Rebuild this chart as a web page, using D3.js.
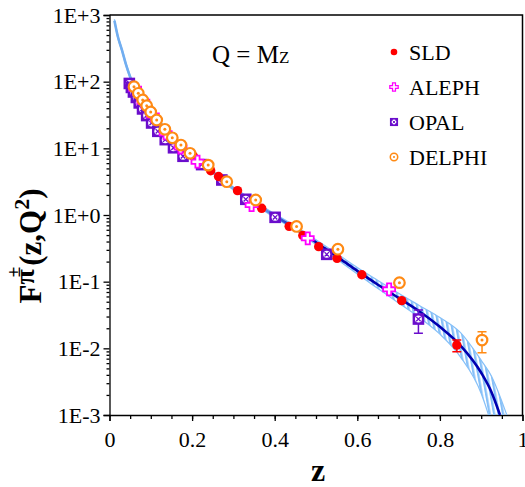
<!DOCTYPE html>
<html>
<head>
<meta charset="utf-8">
<script src="https://cdn.jsdelivr.net/npm/d3@7"></script>
<style>
  html, body { margin: 0; padding: 0; background: #fff; }
  svg { display: block; font-family: "Liberation Serif", "Times New Roman", serif; }
</style>
</head>
<body>
<svg id="chart" width="525" height="487"></svg>
<script>
// fit curve (central value) and its uncertainty band
var curveZ = [0.012, 0.02, 0.03, 0.04, 0.05, 0.06, 0.07, 0.08, 0.09, 0.10, 0.12, 0.14, 0.16, 0.18, 0.20,
    0.25, 0.30, 0.35, 0.40, 0.45, 0.50, 0.55, 0.60, 0.65, 0.70, 0.75, 0.80, 0.85, 0.90, 0.925, 0.9455];
var curveF = [820, 480, 300, 180, 118, 84, 65, 52, 43, 35, 25, 18.5, 13.8, 10.5, 8.0,
    4.4, 2.5, 1.55, 0.97, 0.63, 0.39, 0.24, 0.145, 0.090, 0.057, 0.036, 0.021, 0.011, 0.0043, 0.0022, 0.001];

var bandZ = curveZ.concat([0.962, 0.975]);
var bandLo = [780, 456, 285, 171, 112, 80, 62, 49.4, 40.9, 33.2, 23.8, 17.6, 13.1, 9.95, 7.6,
    4.17, 2.37, 1.46, 0.91, 0.59, 0.36, 0.218, 0.130, 0.079, 0.048, 0.029, 0.0163, 0.0074, 0.0021, 0.0007, 0.0002,
    0.00008, 0.00004];
var bandHi = [860, 504, 315, 189, 124, 88, 68, 54.6, 45.1, 36.8, 26.2, 19.4, 14.5, 11.0, 8.4,
    4.63, 2.63, 1.64, 1.04, 0.68, 0.425, 0.265, 0.163, 0.104, 0.067, 0.044, 0.029, 0.0172, 0.0066, 0.0038, 0.0019,
    0.001, 0.0006];

// experiments
var sldZ = [0.203, 0.245, 0.264, 0.310, 0.3685, 0.435, 0.468, 0.5065, 0.551, 0.611, 0.7075, 0.841];
var sldF = [7.67, 4.62, 3.78, 2.32, 1.26, 0.676, 0.493, 0.335, 0.224, 0.127, 0.0519, 0.0112];
var sldErrLo = [null, null, null, null, null, null, null, null, null, null, null, 0.0089];
var sldErrHi = [null, null, null, null, null, null, null, null, null, null, null, 0.0133];

var alephZ = [0.062, 0.082, 0.105, 0.136, 0.172, 0.213, 0.344, 0.48, 0.677];
var alephF = [78, 50, 31, 16.8, 10.3, 6.3, 1.41, 0.447, 0.0767];

var opalZ = [0.048, 0.053, 0.058, 0.065, 0.072, 0.080, 0.090, 0.102, 0.117, 0.135, 0.155, 0.178,
    0.223, 0.272, 0.330, 0.401, 0.526, 0.748];
var opalF = [94, 82, 70, 58, 48, 39, 31, 24, 18, 13.5, 10.2, 7.6,
    5.7, 3.35, 1.72, 0.923, 0.257, 0.0275];
var opalErrLo = opalZ.map(function (d, i) { return i === opalZ.length - 1 ? 0.0168 : null; });
var opalErrHi = opalZ.map(function (d, i) { return i === opalZ.length - 1 ? 0.0376 : null; });

var delphiZ = [0.0593, 0.0697, 0.0804, 0.0901, 0.0998, 0.1143, 0.134, 0.152, 0.173, 0.195, 0.239,
    0.284, 0.354, 0.453, 0.553, 0.702, 0.902];
var delphiF = [84, 66.9, 53.1, 43.6, 35.1, 26.6, 19.3, 14.4, 11.2, 8.43, 5.6,
    3.16, 1.68, 0.673, 0.307, 0.0966, 0.0133];
var delphiErrLo = delphiZ.map(function (d, i) { return i === delphiZ.length - 1 ? 0.0086 : null; });
var delphiErrHi = delphiZ.map(function (d, i) { return i === delphiZ.length - 1 ? 0.0178 : null; });

var xTicks = [0, 0.2, 0.4, 0.6, 0.8, 1];
var yTicks = [1e-3, 1e-2, 1e-1, 1e0, 1e1, 1e2, 1e3];
var legendNames = ["SLD", "ALEPH", "OPAL", "DELPHI"];

var FONT = "'Liberation Serif', 'Times New Roman', serif";
var RED = "#ff0000", MAGENTA = "#ff00ff", PURPLE = "#6a0dcc", ORANGE = "#ff8a14";
var BAND = "#86c0f8", NAVY = "#0000b0";

var W = 525, H = 487;
var margin = {left: 109.5, right: 2.5, top: 15, bottom: 72};

var svg = d3.select("#chart");
var x = d3.scaleLinear().domain([0, 1]).range([margin.left, W - margin.right]);
var y = d3.scaleLog().domain([1e-3, 1e3]).range([H - margin.bottom, margin.top]);

var defs = svg.append("defs");
defs.append("clipPath").attr("id", "plotClip")
    .append("rect")
    .attr("x", x(0)).attr("y", y(1e3))
    .attr("width", x(1) - x(0)).attr("height", y(1e-3) - y(1e3));

var hatch = defs.append("pattern")
    .attr("id", "hatch")
    .attr("patternUnits", "userSpaceOnUse")
    .attr("width", 4.4).attr("height", 10)
    .attr("patternTransform", "rotate(-10)");
hatch.append("rect").attr("x", 0).attr("y", 0).attr("width", 2.3).attr("height", 10)
    .attr("fill", BAND);

// line fades from light blue to navy where the band opens up
var grad = defs.append("linearGradient")
    .attr("id", "lineGrad")
    .attr("gradientUnits", "userSpaceOnUse")
    .attr("x1", x(0.36)).attr("x2", x(0.47)).attr("y1", 0).attr("y2", 0);
grad.append("stop").attr("offset", 0).attr("stop-color", "#72aef0");
grad.append("stop").attr("offset", 1).attr("stop-color", NAVY);

/* axes */
var xAxis = svg.append("g")
    .attr("transform", "translate(0," + y(1e-3) + ")")
    .call(d3.axisBottom(x).tickValues(xTicks).tickSize(6).tickPadding(5)
        .tickFormat(function (d) { return d === 0 || d === 1 ? String(d) : d3.format(".1f")(d); }));
svg.append("g")
    .attr("transform", "translate(0," + y(1e-3) + ")")
    .call(d3.axisBottom(x).tickValues(d3.range(0.05, 1, 0.05)).tickSize(4).tickFormat(""))
    .call(function (g) { g.select(".domain").remove(); });

var minorY = [];
yTicks.slice(0, -1).forEach(function (t) {
    for (var k = 2; k < 10; k++) { minorY.push(t * k); }
});
var yAxis = svg.append("g")
    .attr("transform", "translate(" + x(0) + ",0)")
    .call(d3.axisLeft(y).tickValues(yTicks).tickSize(6).tickPadding(3)
        .tickFormat(function (d) {
            var e = Math.round(Math.log10(d));
            return "1E" + (e >= 0 ? "+" : "") + e;
        }));
svg.append("g")
    .attr("transform", "translate(" + x(0) + ",0)")
    .call(d3.axisLeft(y).tickValues(minorY).tickSize(3).tickFormat(""))
    .call(function (g) { g.select(".domain").remove(); });

xAxis.attr("font-family", FONT);
yAxis.attr("font-family", FONT);
svg.selectAll(".tick text")
    .style("font-family", FONT)
    .style("font-size", "22px")
    .attr("fill", "#000");
svg.selectAll(".domain, .tick line").attr("stroke", "#000").attr("stroke-width", 1.3);
xAxis.selectAll(".tick text").attr("dy", "0.95em");
yAxis.selectAll(".tick text").attr("dy", "0.33em");

// frame top / right
svg.append("path")
    .attr("d", "M" + x(0) + "," + y(1e3) + "H" + x(1) + "V" + y(1e-3))
    .attr("fill", "none").attr("stroke", "#000").attr("stroke-width", 1.5);

/* band and curve */
var plot = svg.append("g").attr("clip-path", "url(#plotClip)");

var bandData = bandZ.map(function (z, i) { return {z: z, lo: bandLo[i], hi: bandHi[i]}; });
plot.append("path")
    .datum(bandData)
    .attr("d", d3.area().curve(d3.curveMonotoneX)
        .x(function (d) { return x(d.z); })
        .y0(function (d) { return y(d.lo); })
        .y1(function (d) { return y(d.hi); }))
    .attr("fill", "url(#hatch)")
    .attr("stroke", BAND).attr("stroke-width", 1.2);

var curveData = curveZ.map(function (z, i) { return {z: z, f: curveF[i]}; });
plot.append("path")
    .datum(curveData)
    .attr("d", d3.line().curve(d3.curveMonotoneX)
        .x(function (d) { return x(d.z); })
        .y(function (d) { return y(d.f); }))
    .attr("fill", "none")
    .attr("stroke", "url(#lineGrad)")
    .attr("stroke-width", 2.6);

/* markers */
function drawMarker(g, type, s) {
    if (type === "SLD") {
        g.append("circle").attr("r", 4.7 * s).attr("fill", RED);
    } else if (type === "ALEPH") {
        var a = 6 * s, b = 2.1 * s;
        g.append("path")
            .attr("d", "M" + (-b) + "," + (-a) + "H" + b + "V" + (-b) + "H" + a + "V" + b + "H" + b +
                "V" + a + "H" + (-b) + "V" + b + "H" + (-a) + "V" + (-b) + "H" + (-b) + "Z")
            .attr("fill", "#fff").attr("stroke", MAGENTA).attr("stroke-width", 1.8 * s);
    } else if (type === "OPAL") {
        var h = 5.8 * s, c = 2.2 * s;
        g.append("rect").attr("x", -h).attr("y", -h).attr("width", 2 * h).attr("height", 2 * h)
            .attr("fill", PURPLE);
        g.append("circle").attr("r", 3.5 * s).attr("fill", "#fff");
        g.append("path").attr("d", "M" + (-c) + "," + (-c) + "L" + c + "," + c + "M" + c + "," + (-c) + "L" + (-c) + "," + c)
            .attr("stroke", PURPLE).attr("stroke-width", 1.3 * s);
    } else {
        g.append("circle").attr("r", 5.3 * s).attr("fill", "#fff")
            .attr("stroke", ORANGE).attr("stroke-width", 2.2 * s);
        g.append("circle").attr("r", 1.5 * s).attr("fill", ORANGE);
    }
}

function drawSeries(name, zs, fs, lo, hi, color) {
    var data = zs.map(function (z, i) {
        return {z: z, f: fs[i], lo: lo ? lo[i] : null, hi: hi ? hi[i] : null};
    });
    var g = svg.append("g").attr("class", "series");
    var err = data.filter(function (d) { return d.lo !== null; });
    err.forEach(function (d) {
        var px = x(d.z);
        g.append("path")
            .attr("d", "M" + px + "," + y(d.lo) + "V" + y(d.hi) +
                "M" + (px - 4.5) + "," + y(d.lo) + "H" + (px + 4.5) +
                "M" + (px - 4.5) + "," + y(d.hi) + "H" + (px + 4.5))
            .attr("stroke", color).attr("stroke-width", 1.5).attr("fill", "none");
    });
    g.selectAll(".pt").data(data).enter().append("g")
        .attr("class", "pt")
        .attr("transform", function (d) { return "translate(" + x(d.z) + "," + y(d.f) + ")"; })
        .each(function () { drawMarker(d3.select(this), name, 1); });
}

drawSeries("OPAL", opalZ, opalF, opalErrLo, opalErrHi, PURPLE);
drawSeries("SLD", sldZ, sldF, sldErrLo, sldErrHi, RED);
drawSeries("ALEPH", alephZ, alephF, null, null, MAGENTA);
drawSeries("DELPHI", delphiZ, delphiF, delphiErrLo, delphiErrHi, ORANGE);

/* legend */
var legend = svg.append("g").attr("transform", "translate(394,52)");
legendNames.forEach(function (n, i) {
    var row = legend.append("g").attr("transform", "translate(0," + (i * 35) + ")");
    drawMarker(row, n, 0.7);
    row.append("text").attr("x", 15).attr("y", 8)
        .style("font-family", FONT)
        .style("font-size", "22px").attr("fill", "#000").text(n);
});

/* titles */
var title = svg.append("text").attr("x", 212).attr("y", 63)
    .style("font-family", FONT)
    .style("font-size", "25px").attr("fill", "#000");
title.append("tspan").text("Q = M");
title.append("tspan").style("font-size", "17px").text("Z");

svg.append("text")
    .attr("x", 318).attr("y", 481)
    .attr("text-anchor", "middle")
    .style("font-family", FONT)
    .style("font-size", "32px").style("font-weight", "bold")
    .text("z");

var yl = svg.append("text")
    .attr("transform", "translate(41,246) rotate(-90)")
    .attr("text-anchor", "middle")
    .style("font-family", FONT)
    .style("font-size", "31px").style("font-weight", "bold");
yl.append("tspan").text("F");
yl.append("tspan").attr("dy", -7).style("font-size", "28px").text("\u03c0");
yl.append("tspan").attr("dy", -14).attr("dx", -8).style("font-size", "19px").text("\u00b1");
yl.append("tspan").attr("dy", 21).attr("dx", 1).text("(z,Q");
yl.append("tspan").attr("dy", -12).style("font-size", "22px").text("2");
yl.append("tspan").attr("dy", 12).text(")");
</script>
</body>
</html>
